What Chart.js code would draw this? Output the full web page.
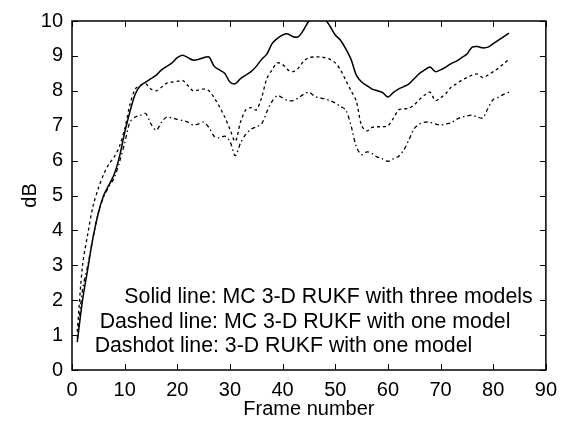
<!DOCTYPE html>
<html>
<head>
<meta charset="utf-8">
<script src="https://cdn.jsdelivr.net/npm/chart.js@4"></script>
<style>
  html, body { margin: 0; padding: 0; background: #fff; }
  #wrap { width: 565px; height: 428px; }
</style>
</head>
<body>
<div id="wrap"><canvas id="chart" width="565" height="428"></canvas></div>
<script>
// frame numbers 1..83
const frames = [];
for (let i = 1; i <= 83; i++) frames.push(i);

// Solid line: MC 3-D RUKF with three models
const solidValues = [
  0.8, 2.0, 2.9, 3.8, 4.5, 5.0, 5.3, 5.6, 6.1, 6.8,
  7.4, 7.9, 8.15, 8.25, 8.35, 8.45, 8.6, 8.7, 8.8, 8.95,
  9.02, 8.95, 8.88, 8.9, 8.95, 8.97, 8.7, 8.6, 8.5, 8.25,
  8.2, 8.35, 8.45, 8.55, 8.7, 8.9, 9.05, 9.35, 9.5, 9.6,
  9.63, 9.55, 9.55, 9.75, 10.0, 10.1, 10.1, 10.05, 9.85, 9.6,
  9.45, 9.2, 8.9, 8.45, 8.25, 8.15, 8.05, 8.0, 7.95, 7.82,
  7.95, 8.05, 8.12, 8.2, 8.35, 8.5, 8.6, 8.68, 8.55, 8.6,
  8.68, 8.78, 8.85, 8.95, 9.05, 9.25, 9.27, 9.23, 9.25, 9.35,
  9.45, 9.55, 9.65
];

// Dashed line: MC 3-D RUKF with one model
const dashedValues = [
  1.1, 3.0, 3.9, 4.7, 5.2, 5.6, 5.9, 6.1, 6.4, 6.9,
  7.6, 8.05, 8.15, 8.2, 8.05, 8.0, 8.1, 8.22, 8.25, 8.27,
  8.3, 8.15, 8.0, 8.02, 8.05, 8.0, 7.8, 7.55, 7.25, 6.9,
  6.55, 7.1, 7.45, 7.52, 7.45, 7.8, 8.35, 8.6, 8.8, 8.75,
  8.6, 8.55, 8.65, 8.85, 8.95, 8.97, 8.97, 8.95, 8.9, 8.8,
  8.6, 8.3, 8.0, 7.7, 7.0, 6.85, 6.95, 6.97, 6.97, 7.0,
  7.2, 7.45, 7.48, 7.5, 7.6, 7.75, 7.88, 7.96, 7.72, 7.8,
  7.92, 8.1, 8.2, 8.3, 8.38, 8.45, 8.48, 8.38, 8.45, 8.55,
  8.65, 8.78, 8.9
];

// Dashdot line: 3-D RUKF with one model
const dashdotValues = [
  0.9, 2.3, 3.0, 3.8, 4.5, 4.95, 5.25, 5.5, 5.95, 6.5,
  7.1, 7.25, 7.3, 7.35, 7.05, 6.87, 7.1, 7.25, 7.22, 7.18,
  7.15, 7.1, 7.02, 7.05, 7.1, 6.95, 6.7, 6.65, 6.7, 6.55,
  6.14, 6.5, 6.75, 6.9, 6.97, 7.05, 7.4, 7.7, 7.86, 7.8,
  7.72, 7.72, 7.8, 7.9, 7.96, 7.85, 7.8, 7.77, 7.72, 7.65,
  7.55, 7.45, 7.0, 6.4, 6.17, 6.25, 6.2, 6.1, 6.05, 5.98,
  6.05, 6.12, 6.3, 6.6, 6.92, 7.05, 7.1, 7.1, 7.05, 7.02,
  7.05, 7.08, 7.18, 7.25, 7.28, 7.3, 7.25, 7.22, 7.5, 7.75,
  7.82, 7.9, 7.96
];

const xTicks = [0, 10, 20, 30, 40, 50, 60, 70, 80, 90];
const yTicks = [0, 1, 2, 3, 4, 5, 6, 7, 8, 9, 10];

const noteLines = [
  'Solid line: MC 3-D RUKF with three models',
  'Dashed line: MC 3-D RUKF with one model',
  'Dashdot line: 3-D RUKF with one model'
];
const noteX = [9.94, 5.25, 4.3];
const noteY = [1.92, 1.21, 0.51];

const FONT = '"Liberation Sans", Arial, Helvetica, sans-serif';

const toPoints = vals => vals.map((v, i) => ({ x: frames[i], y: v }));

// box + inward ticks on all four sides, plus the text notes
const framePlugin = {
  id: 'frameBox',
  afterDatasetsDraw(chart) {
    const ctx = chart.ctx;
    const a = chart.chartArea;
    const xs = chart.scales.x, ys = chart.scales.y;
    ctx.save();
    ctx.strokeStyle = '#000';
    ctx.lineWidth = 1.5;
    ctx.strokeRect(a.left, a.top, a.right - a.left, a.bottom - a.top);
    ctx.lineWidth = 1;
    const len = 6;
    xTicks.forEach(t => {
      const px = Math.round(xs.getPixelForValue(t)) + 0.5;
      ctx.beginPath();
      ctx.moveTo(px, a.bottom); ctx.lineTo(px, a.bottom - len);
      ctx.moveTo(px, a.top); ctx.lineTo(px, a.top + len);
      ctx.stroke();
    });
    yTicks.forEach(t => {
      const py = Math.round(ys.getPixelForValue(t)) + 0.5;
      ctx.beginPath();
      ctx.moveTo(a.left, py); ctx.lineTo(a.left + len, py);
      ctx.moveTo(a.right, py); ctx.lineTo(a.right - len, py);
      ctx.stroke();
    });
    ctx.fillStyle = '#000';
    ctx.font = '21.3px ' + FONT;
    ctx.textAlign = 'left';
    ctx.textBaseline = 'alphabetic';
    noteLines.forEach((s, i) => {
      ctx.fillText(s, xs.getPixelForValue(noteX[i]), ys.getPixelForValue(noteY[i]));
    });
    ctx.restore();
  }
};

new Chart(document.getElementById('chart'), {
  type: 'line',
  data: {
    datasets: [
      {
        label: 'Solid',
        data: toPoints(solidValues),
        borderColor: '#000',
        borderWidth: 1.5,
        pointRadius: 0,
        tension: 0.3
      },
      {
        label: 'Dashed',
        data: toPoints(dashedValues),
        borderColor: '#000',
        borderWidth: 1.3,
        borderDash: [3, 3],
        pointRadius: 0,
        tension: 0.3
      },
      {
        label: 'Dashdot',
        data: toPoints(dashdotValues),
        borderColor: '#000',
        borderWidth: 1.3,
        borderDash: [4, 3, 1.5, 3],
        pointRadius: 0,
        tension: 0.3
      }
    ]
  },
  options: {
    responsive: false,
    animation: false,
    layout: { padding: { top: 16, right: 13, left: 0, bottom: 0 } },
    plugins: {
      legend: { display: false },
      tooltip: { enabled: false }
    },
    scales: {
      x: {
        type: 'linear',
        min: 0,
        max: 90,
        afterFit: s => { s.height = 58; },
        afterBuildTicks: s => { s.ticks = xTicks.map(v => ({ value: v })); },
        grid: { display: false, drawTicks: false },
        border: { display: false },
        ticks: { color: '#000', padding: 8, font: { family: FONT, size: 20 } },
        title: {
          display: true,
          text: 'Frame number',
          color: '#000',
          font: { family: FONT, size: 20 },
          padding: { top: 0, bottom: 7 }
        }
      },
      y: {
        min: 0,
        max: 10,
        afterFit: s => { s.width = 72; },
        afterBuildTicks: s => { s.ticks = yTicks.map(v => ({ value: v })); },
        grid: { display: false, drawTicks: false },
        border: { display: false },
        ticks: { color: '#000', padding: 9, font: { family: FONT, size: 20 } },
        title: {
          display: true,
          text: 'dB',
          color: '#000',
          font: { family: FONT, size: 20 },
          padding: { top: 18, bottom: 0 }
        }
      }
    }
  },
  plugins: [framePlugin]
});
</script>
</body>
</html>
